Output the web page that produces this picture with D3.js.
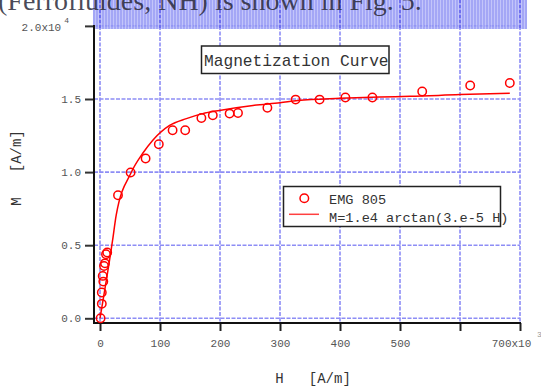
<!DOCTYPE html>
<html>
<head>
<meta charset="utf-8">
<script src="https://cdn.jsdelivr.net/npm/d3@7"></script>
<style>
  body { margin: 0; background: #fff; }
  svg { display: block; }
</style>
</head>
<body>
<svg id="chart" width="541" height="388"></svg>
<script>
// measured points (EMG 805), H in A/m, M in A/m
const pointH = [1, 3, 3, 5.5, 4.5, 6.7, 8.3, 10, 12, 30, 51, 76, 98, 121, 142, 169, 188, 216, 230, 279, 326, 366, 409, 454, 537, 617, 683];
const pointM = [0, 990, 1760, 2510, 2900, 3580, 3760, 4380, 4500, 8420, 9970, 10930, 11900, 12860, 12860, 13700, 13880, 14000, 14040, 14400, 14960, 14960, 15100, 15100, 15510, 15920, 16090];

// fitted curve
const fitH = [0, 21, 27, 52, 71, 88, 116, 144, 171, 199, 255, 300, 330, 400, 466, 517, 600, 683];
const fitM = [0, 5340, 7060, 9970, 11270, 12180, 13190, 13660, 14000, 14220, 14560, 14750, 14900, 15050, 15140, 15180, 15300, 15390];

const xTicks = [0, 100, 200, 300, 400, 500, 600, 700];
const xTickLabels = ['0', '100', '200', '300', '400', '500', '', '700x10'];
const yTicks = [0, 5000, 10000, 15000, 20000];
const yTickLabels = ['0.0', '0.5', '1.0', '1.5', '2.0x10'];

const legendLabels = ['EMG 805', 'M=1.e4 arctan(3.e-5 H)'];
const chartTitle = 'Magnetization Curve';
const pageText = '(Ferrofluides, NH) is shown in Fig. 5.';

const mono = '"Liberation Mono", "DejaVu Sans Mono", monospace';
const svg = d3.select('#chart');

const x = d3.scaleLinear().domain([0, 700]).range([100, 520]);
const y = d3.scaleLinear().domain([0, 20000]).range([318.3, 25.9]);
const axisX = 94, axisY = 323;

// grid
const grid = svg.append('g')
  .attr('stroke', '#8d8df5')
  .attr('stroke-width', 1.6)
  .attr('stroke-dasharray', '4,1.5');
grid.selectAll('.vg').data(xTicks).join('line')
  .attr('x1', d => x(d)).attr('x2', d => x(d))
  .attr('y1', y(20000)).attr('y2', axisY);
grid.selectAll('.hg').data(yTicks).join('line')
  .attr('x1', axisX).attr('x2', x(700))
  .attr('y1', d => y(d)).attr('y2', d => y(d));

// striped band at the top, with the page text showing through
const defs = svg.append('defs');
const pat = defs.append('pattern')
  .attr('id', 'stripes').attr('patternUnits', 'userSpaceOnUse')
  .attr('width', 3).attr('height', 4);
pat.append('rect').attr('width', 3).attr('height', 4).attr('fill', '#9498f4');
pat.append('rect').attr('x', 2).attr('width', 1).attr('height', 4).attr('fill', '#b8bbf9');
svg.append('rect')
  .attr('x', 93).attr('y', 0).attr('width', 434).attr('height', 29)
  .attr('fill', 'url(#stripes)').attr('opacity', 0.85);
svg.append('g').attr('stroke', '#6f6ff0').attr('stroke-width', 2).attr('stroke-dasharray', '3,2')
  .selectAll('line').data(xTicks).join('line')
  .attr('x1', d => x(d)).attr('x2', d => x(d)).attr('y1', 0).attr('y2', 29);

svg.append('text')
  .attr('x', -2).attr('y', 10)
  .style('font-family', '"Liberation Serif", "DejaVu Serif", serif')
  .style('font-size', '28px')
  .style('fill', '#2a2a3a')
  .style('fill-opacity', 0.85)
  .text(pageText);

// axes
const yAxis = d3.axisLeft(y).tickValues(yTicks).tickSize(9).tickPadding(4)
  .tickFormat((d, i) => yTickLabels[i]);
const gy = svg.append('g').attr('transform', `translate(${axisX},0)`).call(yAxis);
gy.select('.domain').remove();
gy.selectAll('line').attr('stroke', '#333').attr('stroke-width', 2);
gy.selectAll('text').style('font-family', mono).style('font-size', '11px').style('fill', '#555');
gy.selectAll('.tick').filter(d => d === 20000).select('text')
  .attr('x', -25).attr('dy', '0.45em')
  .append('tspan').attr('dx', 3).attr('dy', -8).style('font-size', '8px').text('4');

const xAxis = d3.axisBottom(x).tickValues(xTicks).tickSize(8).tickPadding(8)
  .tickFormat((d, i) => xTickLabels[i]);
const gx = svg.append('g').attr('transform', `translate(0,${axisY})`).call(xAxis);
gx.select('.domain').remove();
gx.selectAll('line').attr('stroke', '#222').attr('stroke-width', 2);
gx.selectAll('text').style('font-family', mono).style('font-size', '11px').style('fill', '#555');
gx.selectAll('.tick').filter(d => d === 700).select('text').attr('x', -9);
svg.append('text').attr('x', 537).attr('y', 337)
  .style('font-family', mono).style('font-size', '8px').style('fill', '#999').text('3');

svg.append('line').attr('x1', axisX).attr('x2', axisX).attr('y1', y(20000) - 1).attr('y2', axisY + 1)
  .attr('stroke', '#111').attr('stroke-width', 2);
svg.append('line').attr('x1', axisX - 1).attr('x2', x(700) + 1).attr('y1', axisY).attr('y2', axisY)
  .attr('stroke', '#111').attr('stroke-width', 2);

// axis titles
svg.append('text').attr('x', 313).attr('y', 383).attr('text-anchor', 'middle')
  .style('font-family', mono).style('font-size', '14px').style('fill', '#333')
  .style('white-space', 'pre').text('H   [A/m]');
svg.append('text').attr('transform', 'translate(21,168) rotate(-90)').attr('text-anchor', 'middle')
  .style('font-family', mono).style('font-size', '14px').style('fill', '#333')
  .style('white-space', 'pre').text('M   [A/m]');

// fit line
const line = d3.line().x(d => x(d[0])).y(d => y(d[1])).curve(d3.curveMonotoneX);
svg.append('path')
  .datum(fitH.map((h, i) => [h, fitM[i]]))
  .attr('d', line)
  .attr('fill', 'none').attr('stroke', '#ff0000').attr('stroke-width', 1.5);

// points
svg.append('g').selectAll('circle')
  .data(pointH.map((h, i) => [h, pointM[i]]))
  .join('circle')
  .attr('cx', d => x(d[0])).attr('cy', d => y(d[1])).attr('r', 4.2)
  .attr('fill', 'none').attr('stroke', '#ff0000').attr('stroke-width', 1.5);

// title box
svg.append('rect').attr('x', 201.5).attr('y', 46).attr('width', 187.5).attr('height', 27.5)
  .attr('fill', '#fff').attr('stroke', '#222').attr('stroke-width', 1.5);
svg.append('text').attr('x', 204).attr('y', 66)
  .style('font-family', mono).style('font-size', '16.2px').style('fill', '#333')
  .text(chartTitle);

// legend
const lg = svg.append('g');
lg.append('rect').attr('x', 283.5).attr('y', 186.5).attr('width', 217).attr('height', 40)
  .attr('fill', '#fff').attr('stroke', '#222').attr('stroke-width', 1.5);
lg.append('circle').attr('cx', 304.3).attr('cy', 198.3).attr('r', 4.3)
  .attr('fill', 'none').attr('stroke', '#ff0000').attr('stroke-width', 1.5);
lg.append('line').attr('x1', 289).attr('x2', 319).attr('y1', 214.3).attr('y2', 214.3)
  .attr('stroke', '#ff4040').attr('stroke-width', 1.5);
lg.selectAll('text').data(legendLabels).join('text')
  .attr('x', 329).attr('y', (d, i) => 203.5 + i * 18)
  .style('font-family', mono).style('font-size', '13.6px').style('fill', '#333')
  .text(d => d);
</script>
</body>
</html>
